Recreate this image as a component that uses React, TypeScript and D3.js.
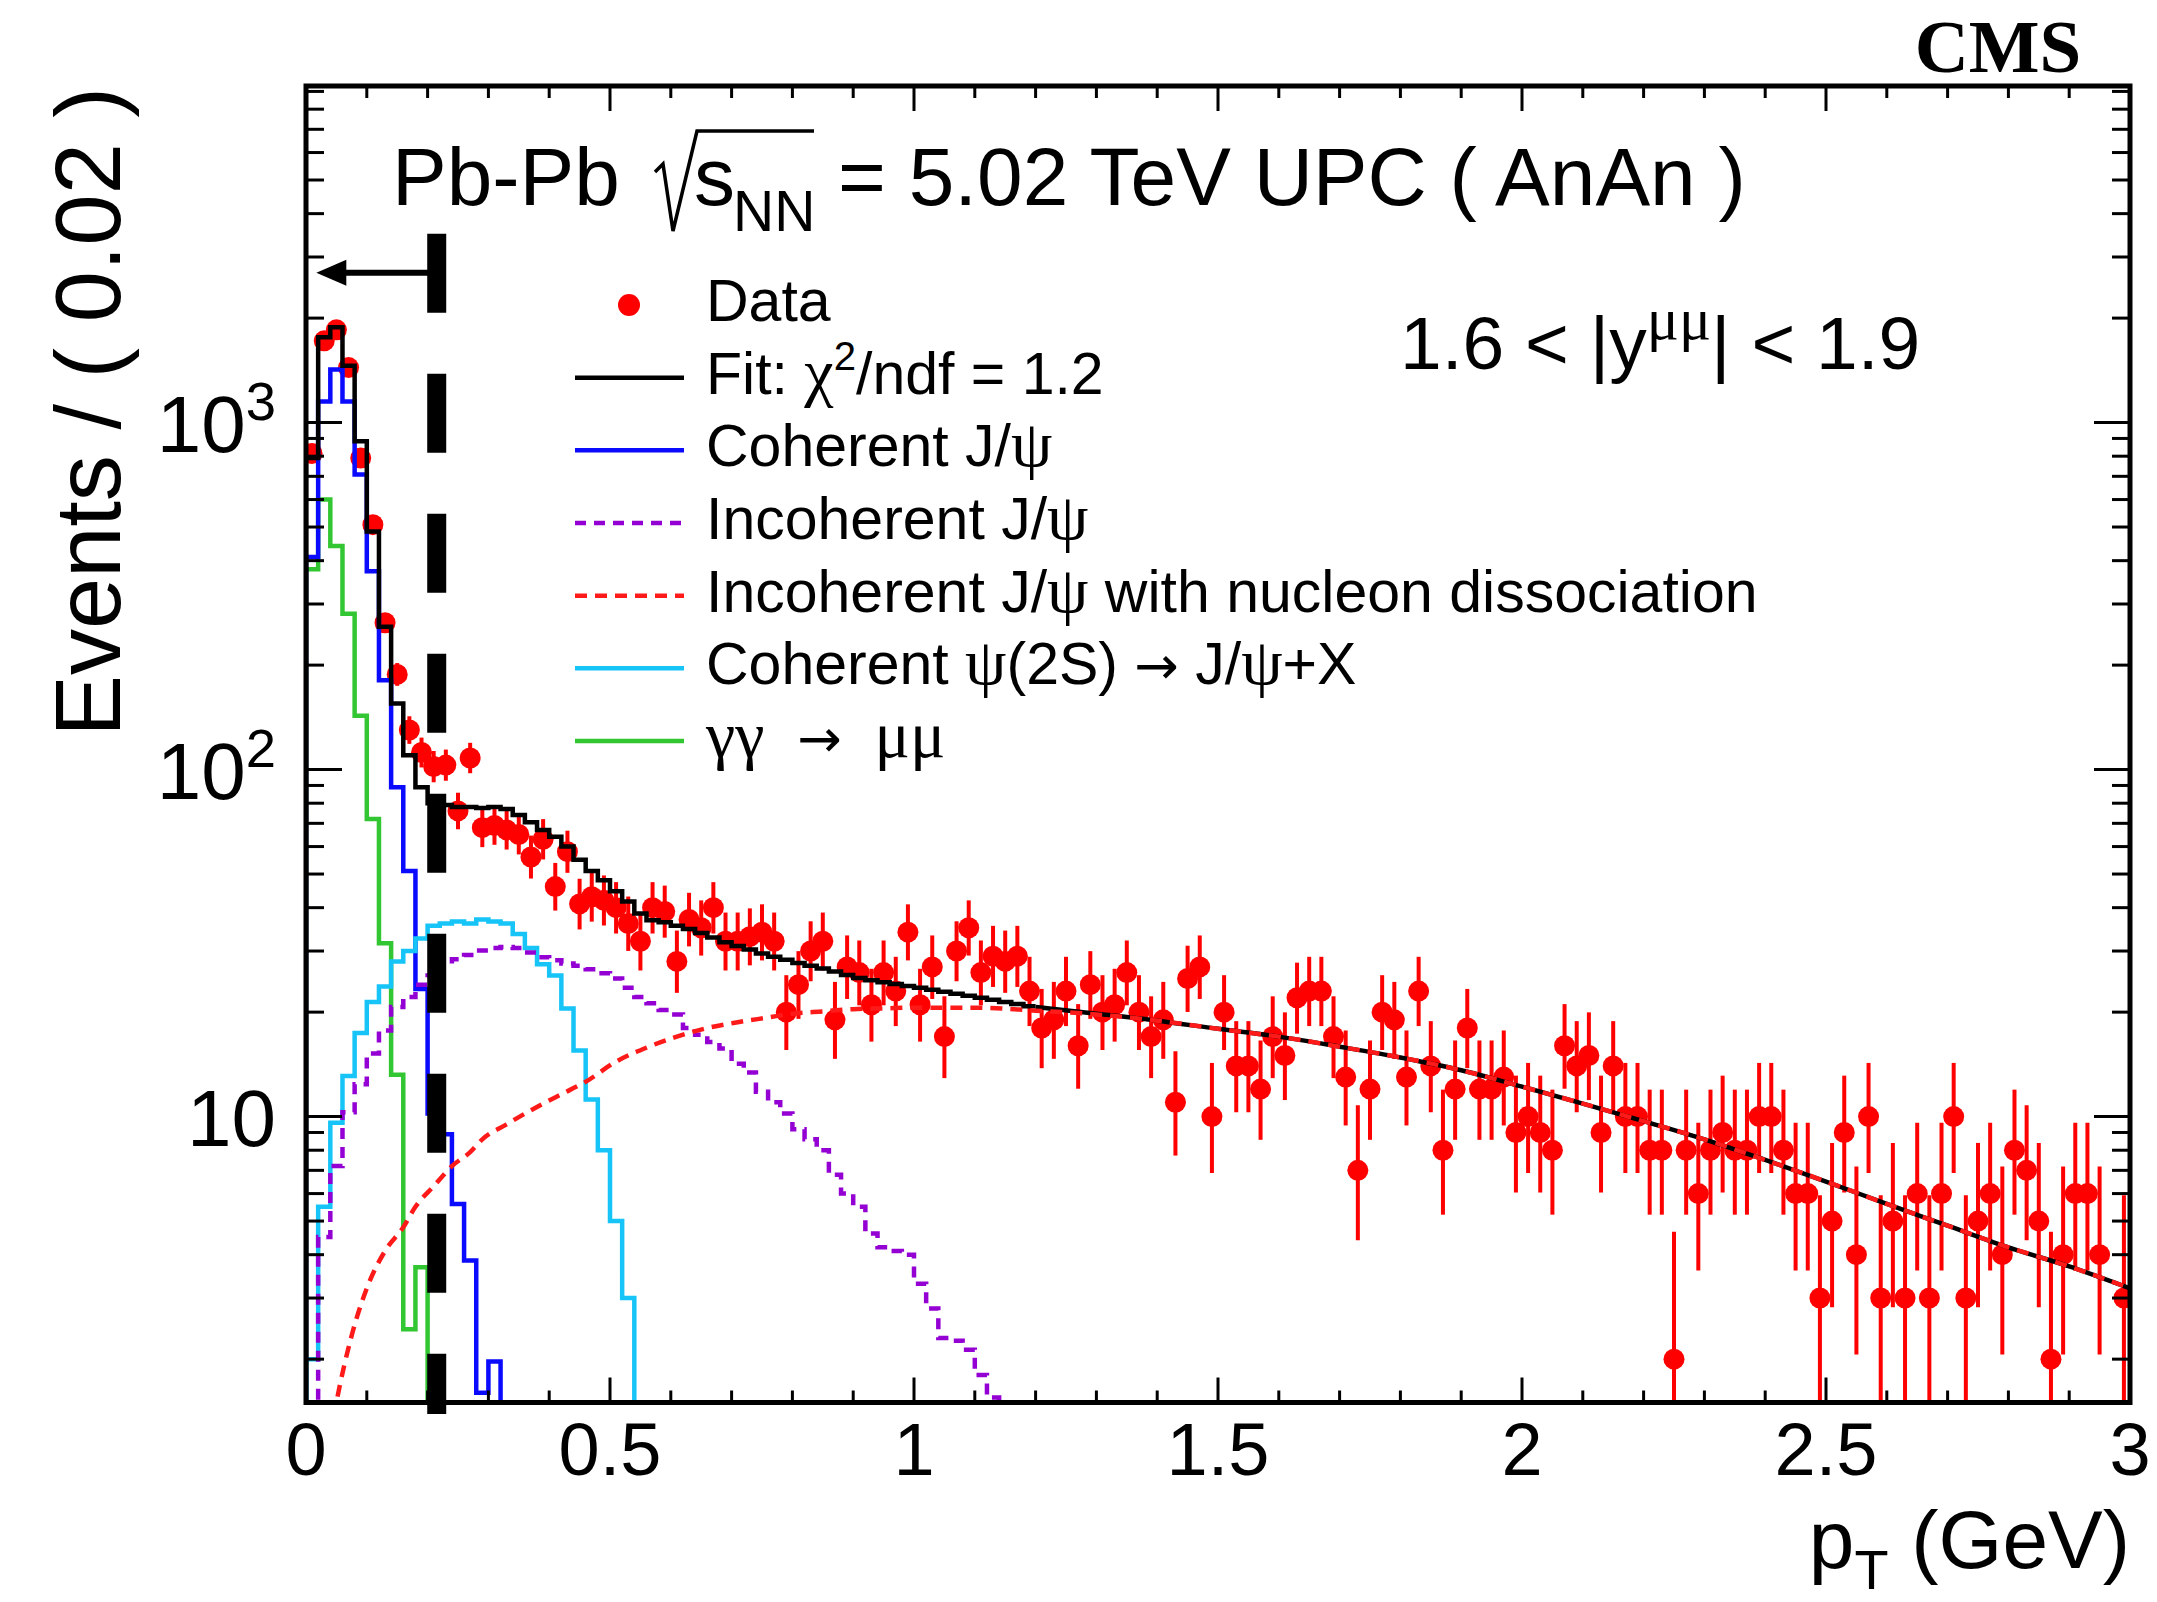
import React, { useEffect, useRef } from "react";
import * as d3 from "d3";

const sans = "Liberation Sans, Arial, Helvetica, sans-serif";
const serif = "Liberation Serif, Times New Roman, serif";

const binWidth = 0.02;
const ptDomain = [0, 3];
const yDomain = [1.5, 9330];

// events per 0.02 GeV bin, starting at pT = 0 (null = empty bin)
const dataCounts = [
  815, 1720, 1850, 1440, 790, 508, 265, 188, 130, 112,
  102, 103, 76, 108, 68, 69, 67, 65, 56, 63,
  46, 58, 41, 43, 42, 40, 36, 32, 40, 39,
  28, 37, 35, 40, 32, 32, 33, 34, 32, 20,
  24, 30, 32, 19, 27, 26, 21, 26, 23, 34,
  21, 27, 17, 30, 35, 26, 29, 28, 29, 23,
  18, 19, 23, 16, 24, 20, 21, 26, 20, 17,
  19, 11, 25, 27, 10, 20, 14, 14, 12, 17,
  15, 22, 23, 23, 17, 13, 7, 12, 20, 19,
  13, 23, 14, 8, 12, 18, 12, 12, 13, 9,
  10, 9, 8, 16, 14, 15, 9, 14, 10, 10,
  8, 8, 2, 8, 6, 8, 9, 8, 8, 10,
  10, 8, 6, 6, 3, 5, 9, 4, 10, 3,
  5, 3, 6, 3, 6, 10, 3, 5, 6, 4,
  8, 7, 5, 2, 4, 6, 6, 4, null, 3,
];

// template histograms, same binning
const coherentJpsi = [410, 1150, 1423, 1150, 708, 373, 181, 89, 51, 23.3, 10.2, 8.9, 5.6, 3.85, 1.6, 1.97];
const gammaGamma = [378, 600, 441, 281, 143, 72, 31.6, 13.2, 2.44, 3.68];
const coherentPsi2S = [
  2.0, 5.5, 9.6, 13.1, 17.4, 21.4, 23.7, 28, 30, 32.6,
  35.5, 36, 36.5, 36, 37, 36.5, 36, 33.6, 30.6, 27.5,
  25.5, 20.5, 15.5, 11.2, 8, 5, 3,
];
const incoherentJpsi = [
  1.5, 4.5, 7.2, 10.3, 12.4, 15.2, 17.7, 20.7, 22.1, 24.0,
  25.5, 27.5, 28.4, 29.2, 30.1, 30.6, 30.8, 30.6, 29.7, 28.8,
  28.2, 27.6, 27.2, 26.6, 25.9, 25.0, 23.5, 22.1, 21.2, 20.3,
  19.7, 18.0, 17.2, 16.4, 15.7, 14.2, 13.4, 11.8, 11.0, 10.2,
  9.2, 8.6, 8.0, 6.8, 6.0, 5.5, 4.6, 4.2, 4.1, 4.0,
  3.3, 2.8, 2.3, 2.26, 2.13, 1.8, 1.55,
];

// total fit: binned part up to 1.2 GeV, then its smooth tail
const fitBins = [
  791, 1761, 1882, 1457, 884, 485, 258, 155, 110, 89,
  80, 79, 78, 78, 77.5, 78, 77, 74, 70.5, 67,
  64, 60, 55, 51, 48, 44.6, 41.7, 38.5, 36.8, 36.3,
  35.5, 34.7, 33.8, 32.8, 31.8, 31.0, 30.3, 29.5, 28.9, 28.3,
  27.7, 27.2, 26.7, 26.2, 25.6, 25.1, 24.7, 24.4, 24.1, 23.8,
  23.5, 23.2, 22.9, 22.6, 22.3, 22.0, 21.7, 21.4, 21.1, 20.8,
];
const fitTailPt = [1.2, 1.3, 1.4, 1.5, 1.6, 1.7, 1.8, 1.9, 2.0, 2.1, 2.2, 2.3, 2.4, 2.5, 2.6, 2.7, 2.8, 2.9, 3.0];
const fitTailVal = [20.7, 19.8, 18.9, 17.9, 17.0, 15.9, 14.8, 13.6, 12.2, 10.9, 9.7, 8.6, 7.5, 6.5, 5.6, 4.85, 4.2, 3.7, 3.2];

// incoherent with nucleon dissociation (smooth)
const dissocPt = [
  0.04, 0.05, 0.074, 0.1, 0.13, 0.16, 0.18, 0.21, 0.24, 0.27, 0.29, 0.33, 0.36, 0.39, 0.42, 0.46,
  0.51, 0.56, 0.61, 0.66, 0.71, 0.76, 0.8, 0.85, 0.9, 0.95, 1.0, 1.1, 1.2, 1.3, 1.4, 1.5,
  1.6, 1.7, 1.8, 1.9, 2.0, 2.1, 2.2, 2.3, 2.4, 2.5, 2.6, 2.7, 2.8, 2.9, 3.0,
];
const dissocVal = [
  1.2, 1.5, 2.3, 3.2, 4.1, 4.8, 5.5, 6.3, 7.2, 7.9, 8.6, 9.5, 10.2, 10.9, 11.6, 12.6,
  14.4, 15.8, 17.0, 18.0, 18.7, 19.3, 19.8, 20.1, 20.4, 20.5, 20.6, 20.6, 20.2, 19.7, 18.9, 17.9,
  17.0, 15.9, 14.8, 13.6, 12.2, 10.9, 9.7, 8.6, 7.5, 6.5, 5.6, 4.85, 4.2, 3.7, 3.2,
];

const xTicks = [0, 0.5, 1, 1.5, 2, 2.5, 3];
const xTickLabels = ["0", "0.5", "1", "1.5", "2", "2.5", "3"];
const yLabelValues = [10, 100, 1000];
const yLabelExp = ["", "2", "3"];

const cutPt = 0.215;
const cutTop = 3500;
const cutBottom = 1.39;
const arrowVal = 2700;
const arrowTip = 0.017;

type Part = { t: string; serif?: boolean; sup?: boolean; sub?: boolean; arrow?: boolean };

const legendItems: { parts: Part[]; kind: string; color: string; dash?: string }[] = [
  { parts: [{ t: "Data" }], kind: "marker", color: "#ff0000" },
  { parts: [{ t: "Fit: " }, { t: "χ", serif: true }, { t: "2", sup: true }, { t: "/ndf = 1.2" }], kind: "line", color: "#000000" },
  { parts: [{ t: "Coherent J/" }, { t: "ψ", serif: true }], kind: "line", color: "#0a0aff" },
  { parts: [{ t: "Incoherent J/" }, { t: "ψ", serif: true }], kind: "line", color: "#9400d3", dash: "11 8" },
  { parts: [{ t: "Incoherent J/" }, { t: "ψ", serif: true }, { t: " with nucleon dissociation" }], kind: "line", color: "#ff1a1a", dash: "12 8" },
  { parts: [{ t: "Coherent " }, { t: "ψ", serif: true }, { t: "(2S) " }, { t: "→", arrow: true }, { t: " J/" }, { t: "ψ", serif: true }, { t: "+X" }], kind: "line", color: "#16c4f7" },
  { parts: [{ t: "γγ", serif: true }, { t: "  " }, { t: "→", arrow: true }, { t: "  " }, { t: "μμ", serif: true }], kind: "line", color: "#33c633" },
];

function addParts(sel: any, parts: Part[], size: number) {
  let shift = 0;
  parts.forEach((p) => {
    const ts = sel.append("tspan").text(p.t);
    const want = p.sup ? -size * 0.4 : p.sub ? size * 0.25 : 0;
    if (want !== shift) {
      ts.attr("dy", want - shift);
      shift = want;
    }
    if (p.serif) ts.attr("font-family", serif).attr("font-size", size * (p.sup ? 0.8 : 1.12));
    else if (p.sup || p.sub) ts.attr("font-size", size * 0.68);
    if (p.arrow) ts.attr("font-family", "DejaVu Sans").attr("font-size", size * 0.9);
  });
}

function stepPoints(vals: number[]): [number, number][] {
  const pts: [number, number][] = [[0, 1]];
  vals.forEach((v, i) => {
    pts.push([i * binWidth, v]);
    pts.push([(i + 1) * binWidth, v]);
  });
  pts.push([vals.length * binWidth, 1]);
  return pts;
}

export default function App() {
  const ref = useRef<SVGSVGElement>(null);

  useEffect(() => {
    const svg = d3.select(ref.current);
    svg.selectAll("*").remove();

    const left = 306, right = 2130, top = 86, bottom = 1402.5;
    const x = d3.scaleLinear().domain(ptDomain).range([left, right]);
    const y = d3.scaleLog().domain(yDomain).range([bottom, top]);

    svg.append("rect").attr("width", 2157).attr("height", 1602).attr("fill", "#fff");

    svg.append("defs").append("clipPath").attr("id", "plotclip")
      .append("rect").attr("x", left).attr("y", top).attr("width", right - left).attr("height", bottom - top);

    const plot = svg.append("g").attr("clip-path", "url(#plotclip)");

    // data points with Poisson (Garwood-like) errors
    const pts = dataCounts
      .map((c, i) => ({ pt: (i + 0.5) * binWidth, c }))
      .filter((d) => d.c != null) as { pt: number; c: number }[];
    plot.selectAll(".err").data(pts).enter().append("line")
      .attr("x1", (d) => x(d.pt)).attr("x2", (d) => x(d.pt))
      .attr("y1", (d) => y(d.c + 1 + Math.sqrt(d.c + 0.75)))
      .attr("y2", (d) => y(Math.max(d.c - Math.sqrt(d.c - 0.25), 0.5)))
      .attr("stroke", "#ff0000").attr("stroke-width", 4);
    plot.selectAll(".pt").data(pts).enter().append("circle")
      .attr("cx", (d) => x(d.pt)).attr("cy", (d) => y(d.c)).attr("r", 10.5)
      .attr("fill", "#ff0000");

    const line = d3.line<[number, number]>()
      .x((d) => x(d[0]))
      .y((d) => y(Math.max(d[1], 1)));

    const hists = [
      { vals: gammaGamma, color: "#33c633", dash: null },
      { vals: coherentJpsi, color: "#0a0aff", dash: null },
      { vals: coherentPsi2S, color: "#16c4f7", dash: null },
      { vals: incoherentJpsi, color: "#9400d3", dash: "11 8" },
    ];
    hists.forEach((h) => {
      plot.append("path").attr("d", line(stepPoints(h.vals)))
        .attr("fill", "none").attr("stroke", h.color).attr("stroke-width", 4.5)
        .attr("stroke-dasharray", h.dash);
    });

    plot.append("path").attr("d", line(stepPoints(fitBins).slice(0, -1)))
      .attr("fill", "none").attr("stroke", "#000").attr("stroke-width", 4.5);
    const tail = fitTailPt.map((p, i) => [p, fitTailVal[i]] as [number, number]);
    plot.append("path").attr("d", line.curve(d3.curveMonotoneX)(tail))
      .attr("fill", "none").attr("stroke", "#000").attr("stroke-width", 4.5);

    const dis = dissocPt.map((p, i) => [p, dissocVal[i]] as [number, number]);
    plot.append("path").attr("d", line.curve(d3.curveMonotoneX)(dis))
      .attr("fill", "none").attr("stroke", "#ff1a1a").attr("stroke-width", 4.5)
      .attr("stroke-dasharray", "12 8");

    // cut line and arrow
    svg.append("line")
      .attr("x1", x(cutPt)).attr("x2", x(cutPt))
      .attr("y1", y(cutTop)).attr("y2", y(cutBottom))
      .attr("stroke", "#000").attr("stroke-width", 19).attr("stroke-dasharray", "79 61");
    const ay = y(arrowVal), tipX = x(arrowTip);
    svg.append("line").attr("x1", x(cutPt)).attr("x2", tipX + 20)
      .attr("y1", ay).attr("y2", ay).attr("stroke", "#000").attr("stroke-width", 6);
    svg.append("path")
      .attr("d", `M${tipX},${ay} L${tipX + 30},${ay - 13} L${tipX + 30},${ay + 13} Z`)
      .attr("fill", "#000");

    // ticks
    const ax = svg.append("g").attr("stroke", "#000").attr("stroke-width", 3);
    d3.range(0, 30.5, 1).forEach((k) => {
      const v = k / 10;
      const len = k % 5 === 0 ? 25 : 12;
      ax.append("line").attr("x1", x(v)).attr("x2", x(v)).attr("y1", bottom).attr("y2", bottom - len);
      ax.append("line").attr("x1", x(v)).attr("x2", x(v)).attr("y1", top).attr("y2", top + len);
    });
    [1, 10, 100, 1000].forEach((dec) => {
      d3.range(1, 10).forEach((m) => {
        const v = m * dec;
        if (v < yDomain[0] || v > yDomain[1]) return;
        const len = m === 1 ? 36 : 18;
        ax.append("line").attr("x1", left).attr("x2", left + len).attr("y1", y(v)).attr("y2", y(v));
        ax.append("line").attr("x1", right).attr("x2", right - len).attr("y1", y(v)).attr("y2", y(v));
      });
    });

    svg.append("rect").attr("x", left).attr("y", top)
      .attr("width", right - left).attr("height", bottom - top)
      .attr("fill", "none").attr("stroke", "#000").attr("stroke-width", 5);

    // tick labels
    xTicks.forEach((v, i) => {
      svg.append("text").attr("x", x(v)).attr("y", 1475)
        .attr("text-anchor", "middle").attr("font-family", sans).attr("font-size", 74)
        .text(xTickLabels[i]);
    });
    yLabelValues.forEach((v, i) => {
      const t = svg.append("text").attr("x", 276).attr("y", y(v) + 29)
        .attr("text-anchor", "end").attr("font-family", sans).attr("font-size", 80);
      const parts: Part[] = [{ t: "10" }];
      if (yLabelExp[i]) parts.push({ t: yLabelExp[i], sup: true });
      addParts(t, parts, 80);
    });

    // axis titles
    const xt = svg.append("text").attr("x", 2130).attr("y", 1568)
      .attr("text-anchor", "end").attr("font-family", sans).attr("font-size", 82)
      .style("white-space", "pre");
    addParts(xt, [{ t: "p" }, { t: "T", sub: true }, { t: " (GeV)" }], 82);

    svg.append("text").attr("transform", "translate(120,87) rotate(-90)")
      .attr("text-anchor", "end").attr("font-family", sans).attr("font-size", 92)
      .style("white-space", "pre")
      .text("Events / ( 0.02 )");

    svg.append("text").attr("x", 1998).attr("y", 72).attr("text-anchor", "middle")
      .attr("font-family", serif).attr("font-weight", "bold").attr("font-size", 75)
      .text("CMS");

    // header
    const hs = 82;
    svg.append("text").attr("x", 392).attr("y", 205).attr("font-family", sans).attr("font-size", hs).text("Pb-Pb");
    svg.append("path").attr("d", "M655,172 L663,164 L673,231 L697,131 L814,131")
      .attr("fill", "none").attr("stroke", "#000").attr("stroke-width", 3.5);
    svg.append("text").attr("x", 694).attr("y", 205).attr("font-family", sans).attr("font-size", hs).text("s");
    svg.append("text").attr("x", 733).attr("y", 231).attr("font-family", sans).attr("font-size", 57).text("NN");
    svg.append("text").attr("x", 838).attr("y", 205).attr("font-family", sans).attr("font-size", hs)
      .style("white-space", "pre").text("= 5.02 TeV UPC ( AnAn )");

    const yt = svg.append("text").attr("x", 1400).attr("y", 369)
      .attr("font-family", sans).attr("font-size", 75).style("white-space", "pre");
    addParts(yt, [{ t: "1.6 < |y" }, { t: "μμ", sup: true, serif: true }, { t: "| < 1.9" }], 75);

    // legend
    const rowY = d3.scaleLinear().domain([0, 6]).range([305, 741]);
    legendItems.forEach((item, i) => {
      const cy = rowY(i);
      if (item.kind === "marker") {
        svg.append("circle").attr("cx", 629).attr("cy", cy).attr("r", 11).attr("fill", item.color);
      } else {
        svg.append("line").attr("x1", 575).attr("x2", 684).attr("y1", cy).attr("y2", cy)
          .attr("stroke", item.color).attr("stroke-width", 4.5)
          .attr("stroke-dasharray", item.dash || null);
      }
      const t = svg.append("text").attr("x", 706).attr("y", cy + 16)
        .attr("font-family", sans).attr("font-size", 59).style("white-space", "pre");
      addParts(t, item.parts, 59);
    });
  }, []);

  return (
    <svg
      ref={ref}
      width={2157}
      height={1602}
      style={{ position: "absolute", left: 0, top: 0, display: "block" }}
    />
  );
}
